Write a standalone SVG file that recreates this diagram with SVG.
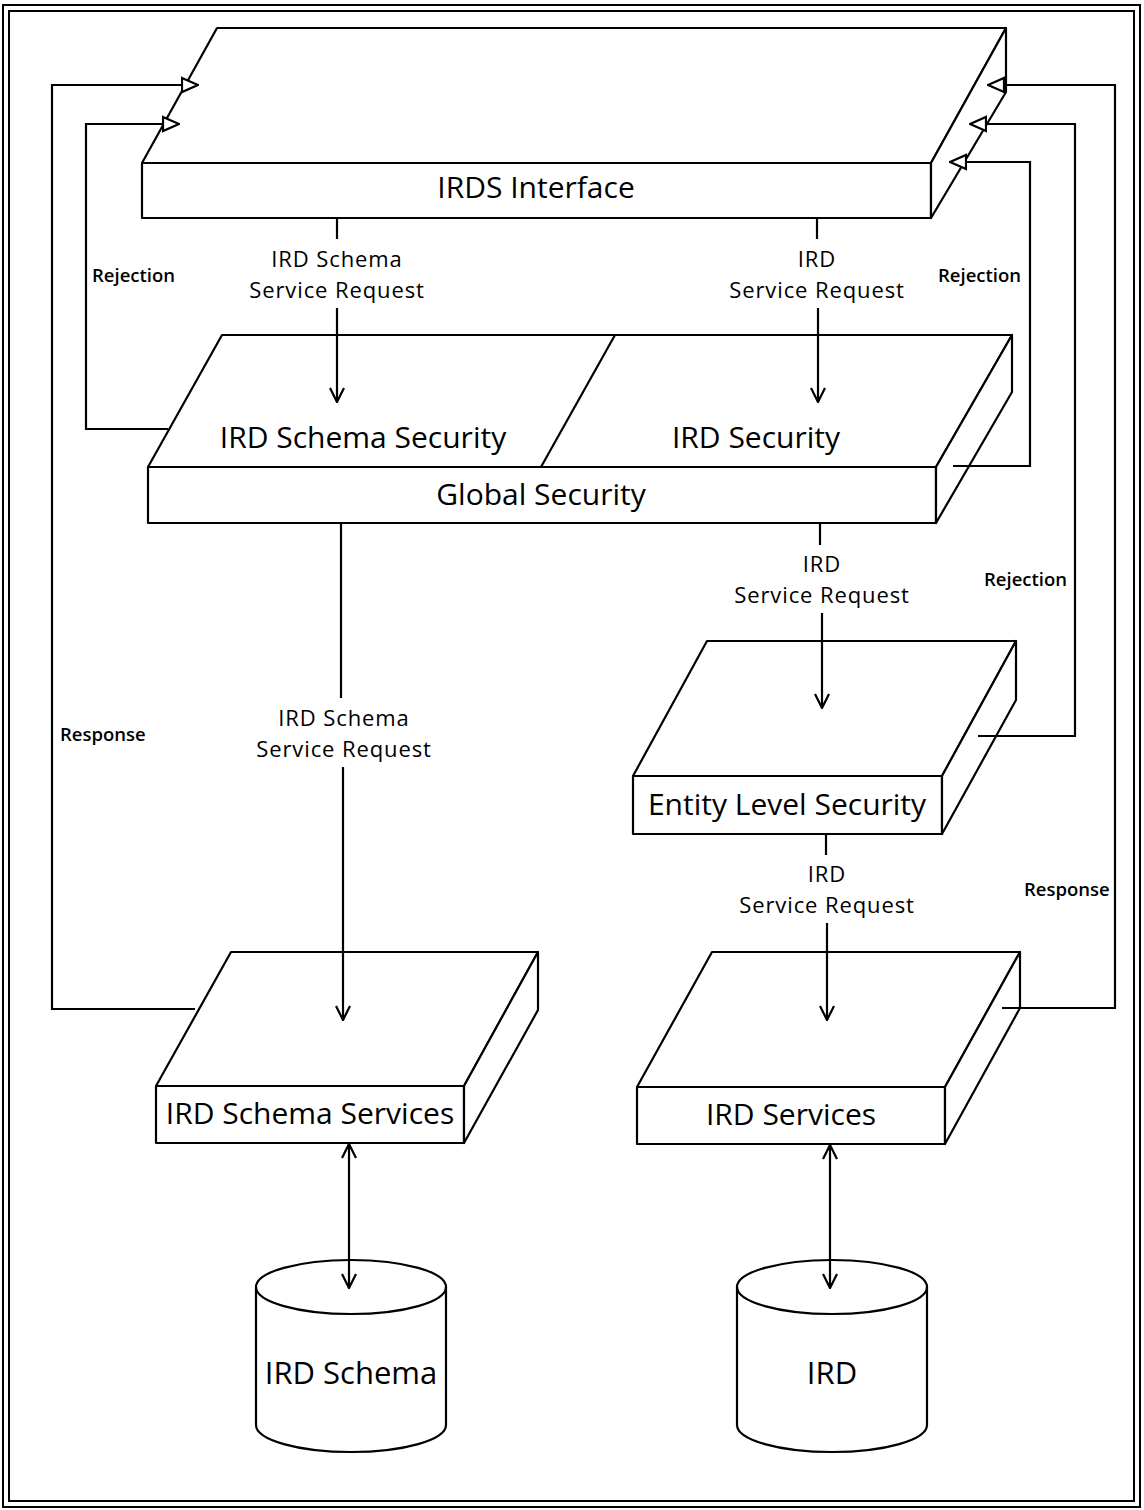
<svg xmlns="http://www.w3.org/2000/svg" width="1144" height="1510" viewBox="0 0 1144 1510">
<defs>
<style>
.s{fill:#fff;stroke:#000;stroke-width:2.2;stroke-linejoin:round}
.c{fill:none;stroke:#000;stroke-width:2.2}
.t{font-family:"Open Sans","Noto Sans",sans-serif;fill:#000;text-anchor:middle}
.big{font-size:30px}
.mid{font-size:22px;letter-spacing:0.9px}
.sm{font-family:"Open Sans","Noto Sans",sans-serif;font-size:18.5px;font-weight:600;fill:#000}
</style>
<marker id="v" viewBox="0 0 16 16" markerWidth="16" markerHeight="16" refX="15" refY="8" orient="auto-start-reverse" markerUnits="userSpaceOnUse">
<path d="M1,1 L15,8 L1,15" fill="none" stroke="#000" stroke-width="2.2"/>
</marker>
<marker id="tri" viewBox="0 0 18 18" markerWidth="18" markerHeight="18" refX="17" refY="9" orient="auto" markerUnits="userSpaceOnUse">
<path d="M1,2 L17,9 L1,16 Z" fill="#fff" stroke="#000" stroke-width="2.2"/>
</marker>
</defs>
<rect x="0" y="0" width="1144" height="1510" fill="#fff"/>
<g id="border">
<rect x="3" y="5" width="1137" height="1502" fill="none" stroke="#000" stroke-width="2"/>
<rect x="9" y="11" width="1125" height="1490" fill="none" stroke="#000" stroke-width="2"/>
</g>

<g id="irds-interface">
<polygon class="s" points="217,28 1006,28 931,163 142,163"/>
<rect class="s" x="142" y="163" width="789" height="55"/>
<polygon class="s" points="1006,28 1006,92 931,218 931,163"/>
<text class="t big" x="536" y="198">IRDS Interface</text>
</g>

<g id="global-security">
<polygon class="s" points="222,335 1012,335 936,467 148,467"/>
<line class="c" x1="615" y1="335" x2="541" y2="467"/>
<rect class="s" x="148" y="467" width="788" height="56"/>
<polygon class="s" points="1012,335 1012,392 936,523 936,467"/>
<text class="t big" x="363" y="448">IRD Schema Security</text>
<text class="t big" x="756" y="448">IRD Security</text>
<text class="t big" x="541" y="505">Global Security</text>
</g>

<g id="entity-level-security">
<polygon class="s" points="707,641 1016,641 942,776 633,776"/>
<rect class="s" x="633" y="776" width="309" height="58"/>
<polygon class="s" points="1016,641 1016,700 942,834 942,776"/>
<text class="t big" x="787" y="815">Entity Level Security</text>
</g>

<g id="ird-schema-services">
<polygon class="s" points="231,952 538,952 464,1086 156,1086"/>
<rect class="s" x="156" y="1086" width="308" height="57"/>
<polygon class="s" points="538,952 538,1010 464,1143 464,1086"/>
<text class="t big" x="310" y="1124">IRD Schema Services</text>
</g>

<g id="ird-services">
<polygon class="s" points="712,952 1020,952 945,1087 637,1087"/>
<rect class="s" x="637" y="1087" width="308" height="57"/>
<polygon class="s" points="1020,952 1020,1008 945,1144 945,1087"/>
<text class="t big" x="791" y="1125">IRD Services</text>
</g>

<g id="ird-schema-db">
<path class="s" d="M256,1287 A95,27 0 0 1 446,1287 V1425 A95,27 0 0 1 256,1425 Z"/>
<path class="c" d="M256,1287 A95,27 0 0 0 446,1287"/>
<text class="t" font-size="31" x="351" y="1384">IRD Schema</text>
</g>

<g id="ird-db">
<path class="s" d="M737,1287 A95,27 0 0 1 927,1287 V1425 A95,27 0 0 1 737,1425 Z"/>
<path class="c" d="M737,1287 A95,27 0 0 0 927,1287"/>
<text class="t" font-size="31" x="832" y="1384">IRD</text>
</g>

<g id="connectors">
<path class="c" d="M195,1009 H52 V85 H198" marker-end="url(#tri)"/>
<path class="c" d="M168,429 H86 V124 H179" marker-end="url(#tri)"/>
<path class="c" d="M953,466 H1030 V162 H950" marker-end="url(#tri)"/>
<path class="c" d="M978,736 H1075 V124 H970" marker-end="url(#tri)"/>
<path class="c" d="M1002,1008 H1115 V85 H988" marker-end="url(#tri)"/>
<text class="sm" x="92" y="282">Rejection</text>
<text class="sm" x="938" y="282">Rejection</text>
<text class="sm" x="984" y="586">Rejection</text>
<text class="sm" x="60" y="741">Response</text>
<text class="sm" x="1024" y="896">Response</text>

<line class="c" x1="337" y1="218" x2="337" y2="239"/>
<line class="c" x1="337" y1="308" x2="337" y2="402" marker-end="url(#v)"/>
<text class="t mid" x="337" y="267">IRD Schema</text>
<text class="t mid" x="337" y="298">Service Request</text>

<line class="c" x1="817" y1="218" x2="817" y2="239"/>
<line class="c" x1="818" y1="308" x2="818" y2="402" marker-end="url(#v)"/>
<text class="t mid" x="817" y="267">IRD</text>
<text class="t mid" x="817" y="298">Service Request</text>

<line class="c" x1="341" y1="523" x2="341" y2="698"/>
<line class="c" x1="343" y1="767" x2="343" y2="1020" marker-end="url(#v)"/>
<text class="t mid" x="344" y="726">IRD Schema</text>
<text class="t mid" x="344" y="757">Service Request</text>

<line class="c" x1="820" y1="523" x2="820" y2="545"/>
<line class="c" x1="822" y1="613" x2="822" y2="708" marker-end="url(#v)"/>
<text class="t mid" x="822" y="572">IRD</text>
<text class="t mid" x="822" y="603">Service Request</text>

<line class="c" x1="826" y1="834" x2="826" y2="855"/>
<line class="c" x1="827" y1="923" x2="827" y2="1020" marker-end="url(#v)"/>
<text class="t mid" x="827" y="882">IRD</text>
<text class="t mid" x="827" y="913">Service Request</text>

<line class="c" x1="349" y1="1144" x2="349" y2="1288" marker-start="url(#v)" marker-end="url(#v)"/>
<line class="c" x1="830" y1="1145" x2="830" y2="1288" marker-start="url(#v)" marker-end="url(#v)"/>
</g>
</svg>
